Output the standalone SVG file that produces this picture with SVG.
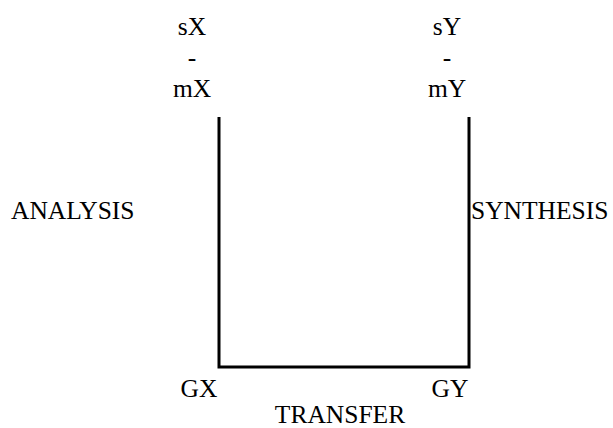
<svg xmlns="http://www.w3.org/2000/svg" width="613" height="428" viewBox="0 0 613 428">
<style>
text{font-family:'Liberation Serif',Tinos,'Times New Roman',Times,'DejaVu Serif',serif;font-size:25.5px;fill:#000}
.c{text-anchor:middle}
.conn{fill:none;stroke:#000;stroke-width:3}
</style>
<rect width="613" height="428" fill="#fff"/>
<g id="connectors">
<path class="conn" d="M219,117 V367 H469 V117"/>
</g>
<g id="node-X">
<text class="c" x="192" y="35">sX</text>
<text class="c" x="192" y="66">-</text>
<text class="c" x="192" y="97">mX</text>
</g>
<g id="node-Y">
<text class="c" x="447" y="35">sY</text>
<text class="c" x="447" y="66">-</text>
<text class="c" x="447" y="97">mY</text>
</g>
<g id="node-analysis"><text x="11" y="219">ANALYSIS</text></g>
<g id="node-synthesis"><text x="471" y="219">SYNTHESIS</text></g>
<g id="node-GX"><text class="c" x="199" y="397">GX</text></g>
<g id="node-GY"><text class="c" x="450" y="397">GY</text></g>
<g id="node-transfer"><text class="c" x="340" y="423">TRANSFER</text></g>
</svg>
